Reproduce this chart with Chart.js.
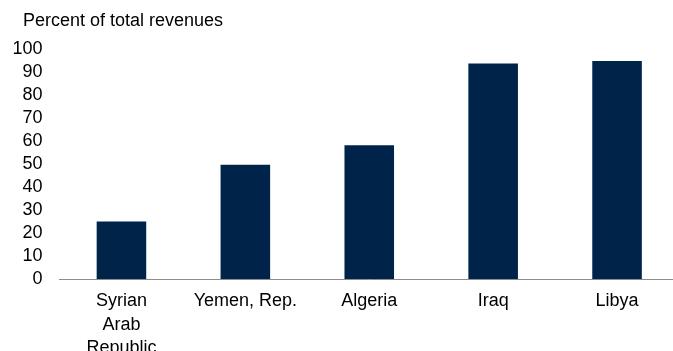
<!DOCTYPE html>
<html>
<head>
<meta charset="utf-8">
<script src="https://cdn.jsdelivr.net/npm/chart.js@4"></script>
<style>
  html, body { margin: 0; padding: 0; background: #fff; overflow: hidden; }
  #wrap { position: relative; width: 673px; height: 351px; overflow: hidden; }
  #unit { position: absolute; left: 23px; top: 10px; font: 18px "Liberation Sans", Arial, sans-serif; line-height: 20px; color: #000; }
  #chart { position: absolute; left: 0; top: 0; }
</style>
</head>
<body>
<div id="wrap">
  <canvas id="chart" width="680" height="362"></canvas>
  <div id="unit">Percent of total revenues</div>
</div>
<script>
// data
const countries = [['Syrian', 'Arab', 'Republic'], 'Yemen, Rep.', 'Algeria', 'Iraq', 'Libya'];
const revenueShare = [25, 49.7, 58.2, 93.7, 94.8];
const yTicks = [0, 10, 20, 30, 40, 50, 60, 70, 80, 90, 100];

const BAR_COLOR = '#00234a';
const AXIS_COLOR = '#8c8c8c';
const FONT = { family: '"Liberation Sans", Arial, sans-serif', size: 18 };

new Chart(document.getElementById('chart'), {
  type: 'bar',
  data: {
    labels: countries,
    datasets: [{
      data: revenueShare,
      backgroundColor: BAR_COLOR,
      borderWidth: 0,
      barPercentage: 0.4,
      categoryPercentage: 1
    }]
  },
  options: {
    responsive: false,
    animation: false,
    layout: { padding: { top: 49, right: 1, left: 0, bottom: 0 } },
    plugins: { legend: { display: false }, tooltip: { enabled: false } },
    scales: {
      y: {
        min: 0,
        max: 100,
        afterBuildTicks: s => { s.ticks = yTicks.map(v => ({ value: v })); },
        afterFit: s => { s.width = 59.5; },
        border: { display: false },
        grid: { display: false, drawTicks: false },
        ticks: { color: '#000', font: FONT, padding: 17, autoSkip: false }
      },
      x: {
        afterFit: s => { s.height = 83; },
        border: { display: true, color: AXIS_COLOR, width: 1 },
        grid: { display: false, drawTicks: false },
        ticks: { color: '#000', font: { ...FONT, lineHeight: 1.28 }, padding: 11, maxRotation: 0, autoSkip: false }
      }
    }
  }
});
</script>
</body>
</html>
